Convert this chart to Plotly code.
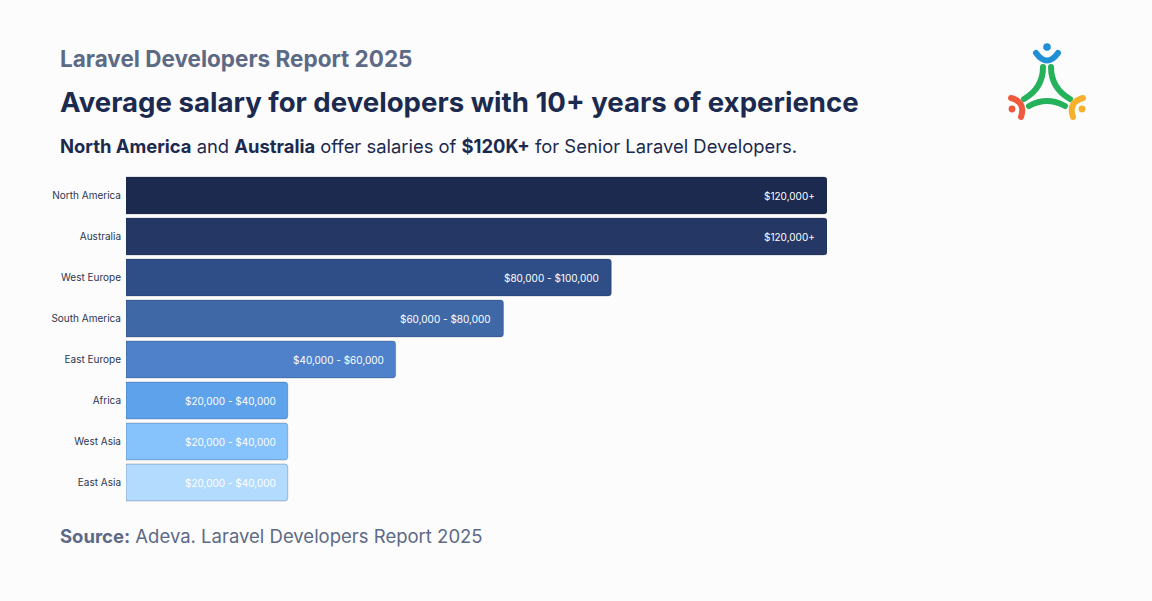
import base64
import plotly.graph_objects as go

regions = ["North America", "Australia", "West Europe", "South America",
           "East Europe", "Africa", "West Asia", "East Asia"]
salary_mid = [130000, 130000, 90000, 70000, 50000, 30000, 30000, 30000]
salary_labels = ["$120,000+", "$120,000+", "$80,000 - $100,000", "$60,000 - $80,000",
                 "$40,000 - $60,000", "$20,000 - $40,000", "$20,000 - $40,000", "$20,000 - $40,000"]
bar_colors = ["#1c2a4f", "#253865", "#2f4e87", "#3f68a7",
              "#4e81c9", "#5ea2ec", "#86c2fb", "#b2dbfe"]

W, H = 1152, 601
ML, MR, MT, MB = 126, 325, 175, 98
PW, PH = W - ML - MR, H - MT - MB

def px(x):
    return (x - ML) / PW

def py(y):
    return (H - MB - y) / PH

FONT = "Inter"
NAVY = "#1b2a4e"
GREY = "#5d6a86"

fig = go.Figure()
fig.add_trace(go.Bar(
    x=salary_mid, y=regions, orientation="h",
    marker=dict(color=bar_colors, line=dict(width=1, color="rgba(20,30,60,0.25)")),
    hoverinfo="skip", width=0.9,
))

for r, v, lab in zip(regions, salary_mid, salary_labels):
    fig.add_annotation(x=v, y=r, text=lab, showarrow=False, xanchor="right",
                       xshift=-10, font=dict(family=FONT, size=10, color="white"))

# header texts
fig.add_annotation(x=px(58), y=py(59), xref="paper", yref="paper", xanchor="left", yanchor="middle",
                   text="<b>Laravel Developers Report 2025</b>", showarrow=False,
                   font=dict(family=FONT, size=22.5, color=GREY))
fig.add_annotation(x=px(58), y=py(102), xref="paper", yref="paper", xanchor="left", yanchor="middle",
                   text="<b>Average salary for developers with 10+ years of experience</b>", showarrow=False,
                   font=dict(family=FONT, size=27.6, color=NAVY))
fig.add_annotation(x=px(58), y=py(146), xref="paper", yref="paper", xanchor="left", yanchor="middle",
                   text="<b>North America</b> and <b>Australia</b> offer salaries of <b>$120K+</b> for Senior Laravel Developers.",
                   showarrow=False, font=dict(family=FONT, size=18.4, color=NAVY))
fig.add_annotation(x=px(58), y=py(536), xref="paper", yref="paper", xanchor="left", yanchor="middle",
                   text="<b>Source:</b> Adeva. Laravel Developers Report 2025", showarrow=False,
                   font=dict(family=FONT, size=18.5, color=GREY))

# logo as inline svg
svg = """<svg xmlns='http://www.w3.org/2000/svg' width='100' height='100' viewBox='997 35 100 100'>
<g fill='none' stroke-linecap='round'>
<path d='M1036 53 Q1047 68 1058 53' stroke='#1f8fd6' stroke-width='6'/>
<path d='M1043 67 Q1043 88 1024 99' stroke='#26b25a' stroke-width='6'/>
<path d='M1051 67 Q1051 88 1070 99' stroke='#26b25a' stroke-width='6'/>
<path d='M1029 106 Q1047 96 1065 106' stroke='#26b25a' stroke-width='6'/>
<path d='M1011 98 Q1026 102 1021 117' stroke='#ee5a3c' stroke-width='6'/>
<path d='M1083 98 Q1068 102 1073 117' stroke='#f7b02b' stroke-width='6'/>
</g>
<circle cx='1047' cy='47' r='3.8' fill='#1f8fd6'/>
<circle cx='1012' cy='109' r='3.4' fill='#ee5a3c'/>
<circle cx='1082' cy='109' r='3.4' fill='#f7b02b'/>
</svg>"""
src = "data:image/svg+xml;base64," + base64.b64encode(svg.encode()).decode()
fig.add_layout_image(source=src, xref="paper", yref="paper", x=px(997), y=py(35),
                     sizex=100 / PW, sizey=100 / PH, xanchor="left", yanchor="top",
                     sizing="stretch", layer="above")

fig.update_layout(
    width=W, height=H,
    margin=dict(l=ML, r=MR, t=MT, b=MB, autoexpand=False),
    paper_bgcolor="#fcfcfd", plot_bgcolor="#fcfcfd",
    showlegend=False, bargap=0.1, barcornerradius=3,
    xaxis=dict(range=[0, 130000], visible=False, fixedrange=True),
    yaxis=dict(autorange="reversed", showgrid=False, zeroline=False, showline=False,
               ticks="", ticklabelstandoff=4, fixedrange=True,
               tickfont=dict(family=FONT, size=10, color="#2d3550")),
    font=dict(family=FONT),
)

fig.write_html("out.html", config={"displayModeBar": False},
               post_script="document.body.style.margin='0';document.body.style.background='#fcfcfd';")
